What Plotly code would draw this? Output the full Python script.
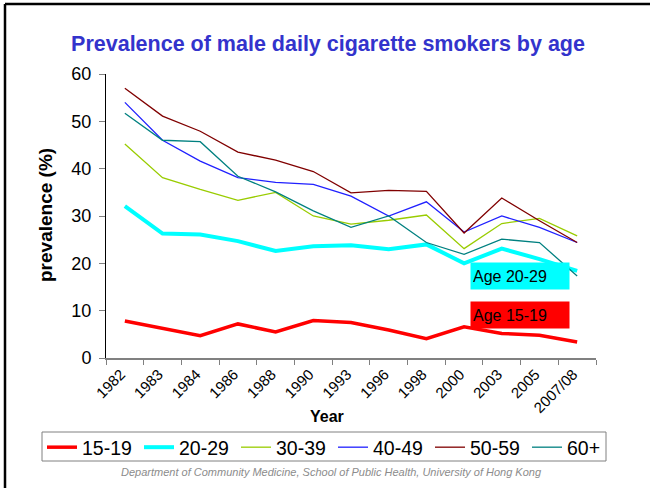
import plotly.graph_objects as go

# Survey years (x categories)
years = ["1982", "1983", "1984", "1986", "1988", "1990", "1993",
         "1996", "1998", "2000", "2003", "2005", "2007/08"]

# Prevalence (%) of male daily cigarette smokers by age group
age_15_19 = [7.8, 6.3, 4.7, 7.2, 5.5, 7.9, 7.5, 5.9, 4.1, 6.6, 5.2, 4.8, 3.4]
age_20_29 = [32.1, 26.3, 26.1, 24.7, 22.6, 23.6, 23.8, 23.0, 24.0, 20.0, 23.1, 20.9, 18.4]
age_30_39 = [45.2, 38.1, 35.6, 33.3, 35.0, 30.0, 28.3, 29.1, 30.2, 23.1, 28.4, 29.5, 25.8]
age_40_49 = [54.0, 46.0, 41.6, 38.1, 37.1, 36.7, 34.2, 30.0, 33.0, 26.6, 30.0, 27.6, 24.4]
age_50_59 = [57.0, 51.1, 47.9, 43.5, 41.8, 39.4, 34.9, 35.4, 35.2, 26.4, 33.8, 29.0, 24.4]
age_60_plus = [51.7, 46.0, 45.7, 38.4, 35.1, 31.1, 27.6, 30.0, 24.4, 21.9, 25.1, 24.4, 17.3]

series = [
    ("15-19", age_15_19, "#ff0000", 3.5),
    ("20-29", age_20_29, "#00ffff", 4),
    ("30-39", age_30_39, "#99cc00", 1.3),
    ("40-49", age_40_49, "#2020ff", 1.3),
    ("50-59", age_50_59, "#800000", 1.3),
    ("60+", age_60_plus, "#008080", 1.3),
]

FONT = "Liberation Sans, Arial, sans-serif"

fig = go.Figure()
for name, vals, color, w in series:
    fig.add_trace(go.Scatter(
        x=years, y=vals, name=name, mode="lines",
        line=dict(color=color, width=w),
    ))

W, H = 650, 488
L, R, T, B = 106, 54, 74, 130
PW, PH = W - L - R, H - T - B
Y0 = H - B  # pixel row of the x axis


def px(x):
    return (x - L) / PW


def py(y):
    return (Y0 - y) / PH


fig.update_layout(
    width=W, height=H,
    margin=dict(l=L, r=R, t=T, b=B, pad=0),
    paper_bgcolor="white", plot_bgcolor="white",
    font=dict(family=FONT, color="black"),
    title=dict(
        text="<b>Prevalence of male daily cigarette smokers by age</b>",
        font=dict(size=21.5, color="#3333cc", family=FONT),
        x=328 / W, xanchor="center", xref="container",
        y=1 - 43 / H, yanchor="middle", yref="container",
    ),
    showlegend=True,
    legend=dict(
        orientation="h",
        x=px(42), xanchor="left",
        y=py(428), yanchor="top",
        borderwidth=0,
        entrywidth=52, entrywidthmode="pixels",
        font=dict(size=19.5, family=FONT),
        bgcolor="rgba(0,0,0,0)",
    ),
    xaxis=dict(
        type="category", range=[-0.5, 12.5],
        showline=True, linecolor="#808080", linewidth=1.5,
        ticks="outside", tickson="boundaries", ticklen=5,
        tickcolor="#808080", tickwidth=1,
        tickangle=-45, tickfont=dict(size=15),
        ticklabelshift=-4,
        showgrid=False, zeroline=False,
    ),
    yaxis=dict(
        range=[0, 60], dtick=10,
        showline=True, linecolor="black", linewidth=1,
        ticks="outside", ticklen=6, tickcolor="#808080",
        tickfont=dict(size=18), ticklabelstandoff=4,
        showgrid=False, zeroline=False,
    ),
)

# Legend frame
fig.add_shape(type="rect", xref="paper", yref="paper",
              x0=px(42), x1=px(606), y0=py(432), y1=py(461),
              line=dict(color="#808080", width=1), layer="below")

# Axis titles
fig.add_annotation(
    text="<b>Year</b>", xref="paper", yref="paper",
    x=px(327), y=py(416),
    showarrow=False, font=dict(size=16), xanchor="center", yanchor="middle",
)
fig.add_annotation(
    text="<b>prevalence (%)</b>", xref="paper", yref="paper",
    x=px(45), y=py(215),
    showarrow=False, font=dict(size=19), textangle=-90,
    xanchor="center", yanchor="middle",
)

# Labelled boxes for the two youngest groups
for label, bg, ycen in [("Age 20-29", "#00ffff", 276), ("Age 15-19", "#ff0000", 315)]:
    fig.add_annotation(
        text=label, xref="paper", yref="paper",
        x=px(470), y=py(ycen),
        xanchor="left", yanchor="middle", showarrow=False,
        bgcolor=bg, width=94, height=22, borderpad=2, align="left",
        font=dict(size=16, color="black"),
    )

# Source line
fig.add_annotation(
    text="<i>Department of Community Medicine, School of Public Health, University of Hong Kong</i>",
    xref="paper", yref="paper",
    x=px(331), y=py(472),
    showarrow=False, font=dict(size=11, color="#8c8c8c"),
    xanchor="center", yanchor="middle",
)

# Slide frame: top and left edges
fig.add_shape(type="line", xref="paper", yref="paper",
              x0=px(5), x1=px(W + 10), y0=py(4), y1=py(4),
              line=dict(color="black", width=2.5))
fig.add_shape(type="line", xref="paper", yref="paper",
              x0=px(5), x1=px(5), y0=py(4), y1=py(H + 10),
              line=dict(color="black", width=2.5))

fig.write_html("out.html")
